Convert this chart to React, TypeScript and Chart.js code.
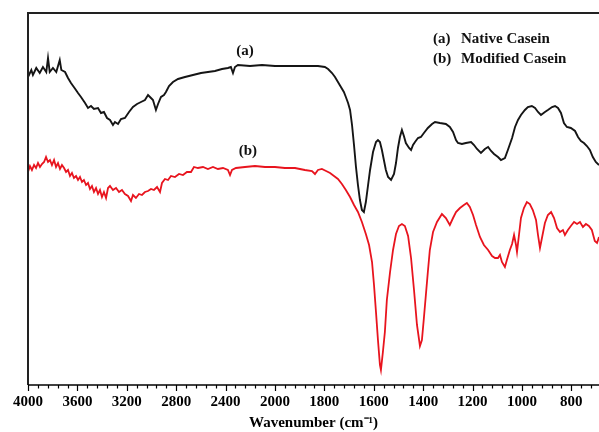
import { useEffect, useRef } from "react";
import { Chart, registerables } from "chart.js";

Chart.register(...registerables);

// Native casein (a) — wavenumber (cm-1) and transmittance (a.u.)
const waveA = [
  4000, 3973, 3960, 3933, 3905, 3879, 3852, 3838, 3824, 3798,
  3771, 3743, 3730, 3700, 3676, 3652, 3623, 3595, 3571, 3538,
  3514, 3490, 3466, 3433, 3409, 3385, 3360, 3336, 3312, 3296,
  3271, 3247, 3215, 3182, 3150, 3117, 3085, 3053, 3028, 3004,
  2988, 2964, 2947, 2923, 2899, 2883, 2858, 2826, 2785, 2729,
  2664, 2599, 2543, 2486, 2429, 2381, 2357, 2340, 2324, 2300,
  2202, 2105, 2000, 1939, 1879, 1826, 1798, 1785, 1769, 1757,
  1745, 1733, 1721, 1713, 1704, 1696, 1688, 1680, 1672, 1664,
  1656, 1648, 1640, 1632, 1623, 1615, 1603, 1591, 1583, 1575,
  1567, 1559, 1551, 1542, 1530, 1518, 1510, 1502, 1494, 1486,
  1478, 1470, 1457, 1449, 1441, 1433, 1421, 1409, 1397, 1381,
  1364, 1352, 1332, 1308, 1292, 1279, 1267, 1259, 1243, 1227,
  1206, 1194, 1182, 1166, 1150, 1137, 1125, 1113, 1097, 1085,
  1069, 1057, 1040, 1028, 1016, 1004, 988, 976, 960, 947,
  935, 923, 907, 895, 878, 866, 854, 842, 830, 818,
  802, 785, 773, 761, 749, 737, 725, 713, 701, 688,
];
const transA = [
  308, 315, 310, 317, 312, 318, 313, 327, 313, 317,
  313, 325, 315, 313, 307, 302, 297, 292, 288, 282,
  277, 279, 276, 277, 272, 273, 267, 265, 260, 263,
  261, 266, 267, 273, 278, 281, 283, 285, 290, 287,
  285, 275, 281, 288, 290, 293, 299, 303, 306, 308,
  310, 312, 313, 314, 316, 317, 318, 312, 318, 320,
  319, 320, 319, 319, 319, 319, 318, 316, 312, 308,
  303, 298, 293, 288, 282, 275, 260, 240, 218, 200,
  185, 175, 173, 183, 200, 215, 233, 243, 245, 243,
  235, 225, 215, 208, 205, 211, 222, 237, 248, 255,
  249, 242, 237, 235, 240, 243, 247, 248, 252, 257,
  261, 263, 262, 261, 258, 253, 245, 242, 241, 242,
  243, 240, 236, 232, 236, 238, 234, 231, 228, 225,
  227, 235, 247, 258, 265, 270, 275, 278, 279, 277,
  273, 270, 273, 275, 278, 279, 277, 272, 262, 258,
  257, 254, 248, 244, 242, 239, 235, 228, 223, 220,
];

// Modified casein (b)
const waveB = [
  4000, 3984, 3968, 3951, 3935, 3919, 3903, 3887, 3870, 3854,
  3838, 3822, 3806, 3789, 3773, 3757, 3741, 3725, 3708, 3692,
  3676, 3660, 3644, 3628, 3611, 3595, 3579, 3563, 3547, 3530,
  3514, 3498, 3482, 3466, 3449, 3433, 3417, 3401, 3385, 3368,
  3352, 3336, 3312, 3287, 3263, 3239, 3215, 3190, 3166, 3150,
  3126, 3101, 3077, 3053, 3028, 3004, 2980, 2955, 2931, 2915,
  2891, 2866, 2842, 2810, 2777, 2745, 2713, 2680, 2656, 2624,
  2583, 2543, 2502, 2462, 2421, 2381, 2364, 2348, 2316, 2243,
  2162, 2081, 2000, 1960, 1919, 1879, 1850, 1838, 1826, 1810,
  1793, 1777, 1761, 1745, 1729, 1713, 1696, 1680, 1664, 1648,
  1632, 1619, 1607, 1599, 1591, 1583, 1575, 1571, 1563, 1555,
  1547, 1534, 1522, 1510, 1498, 1486, 1474, 1461, 1449, 1437,
  1425, 1413, 1405, 1397, 1389, 1381, 1373, 1360, 1344, 1324,
  1308, 1292, 1279, 1267, 1251, 1235, 1223, 1211, 1198, 1186,
  1170, 1154, 1137, 1121, 1109, 1097, 1089, 1081, 1069, 1061,
  1049, 1040, 1032, 1024, 1020, 1012, 1004, 992, 980, 968,
  956, 943, 935, 927, 919, 907, 895, 882, 870, 858,
  846, 834, 826, 814, 802, 789, 777, 765, 753, 741,
  729, 717, 705, 696, 688,
];
const transB = [
  213, 219, 215, 220, 217, 222, 218, 221, 223, 228,
  223, 225, 220, 225, 218, 222, 216, 220, 217, 213,
  215, 209, 212, 207, 209, 205, 208, 203, 205, 200,
  202, 196, 199, 193, 197, 191, 195, 188, 193, 187,
  197, 199, 195, 197, 193, 195, 191, 189, 184, 190,
  187, 191, 190, 193, 194, 196, 195, 198, 193, 202,
  206, 205, 209, 208, 211, 210, 213, 213, 218, 217,
  218, 216, 218, 216, 217, 215, 210, 215, 217, 218,
  219, 218, 218, 217, 217, 215, 214, 211, 215, 216,
  214, 212, 209, 206, 201, 195, 188, 180, 173, 163,
  151, 140, 123, 100, 73, 45, 20, 15, 33, 53,
  85, 113, 135, 151, 159, 161, 159, 149, 127, 95,
  60, 39, 45, 67, 90, 113, 135, 153, 163, 171,
  167, 160, 167, 173, 177, 180, 182, 178, 170, 160,
  148, 140, 135, 129, 127, 127, 130, 123, 118, 125,
  135, 141, 150, 140, 133, 150, 167, 177, 183, 181,
  175, 165, 150, 137, 147, 162, 170, 173, 167, 157,
  153, 155, 150, 155, 159, 163, 161, 163, 158, 161,
  159, 155, 144, 142, 148,
];

const seriesTags = ["(a)", "(b)"];
const seriesNames = ["Native Casein", "Modified Casein"];
const tagWave = [2243, 2219];
const tagValue = [334, 234];
const majorTicks = [4000, 3600, 3200, 2800, 2400, 2000, 1800, 1600, 1400, 1200, 1000, 800];
const xTitle = "Wavenumber (cm\u207B\u00B9)";

// FTIR axis: half scale above 2000 cm-1
const toAxis = (w: number) => (w >= 2000 ? 2000 + (w - 2000) / 2 : w);

const FONT = '"Liberation Serif", "Times New Roman", serif';

const decor = {
  id: "decor",
  afterDraw(chart: any) {
    const { ctx, chartArea: ca, scales } = chart;
    const x = scales.x;
    const y = scales.y;
    ctx.save();
    // frame: left and top
    ctx.strokeStyle = "#222";
    ctx.lineWidth = 2;
    ctx.beginPath();
    ctx.moveTo(ca.left, ca.bottom);
    ctx.lineTo(ca.left, ca.top);
    ctx.lineTo(chart.width, ca.top);
    ctx.stroke();
    // bottom axis line
    ctx.strokeStyle = "#000";
    ctx.lineWidth = 1.6;
    ctx.beginPath();
    ctx.moveTo(ca.left, ca.bottom);
    ctx.lineTo(ca.right, ca.bottom);
    ctx.stroke();
    // ticks: minor every 40 axis units, major every 200
    ctx.lineWidth = 1.2;
    for (let a = 3000; a >= x.min; a -= 40) {
      const px = Math.round(x.getPixelForValue(a)) + 0.5;
      const len = a % 200 === 0 ? 6 : 3.5;
      ctx.beginPath();
      ctx.moveTo(px, ca.bottom);
      ctx.lineTo(px, ca.bottom + len);
      ctx.stroke();
    }
    // tick labels
    ctx.fillStyle = "#000";
    ctx.font = `bold 15px ${FONT}`;
    ctx.textAlign = "center";
    ctx.textBaseline = "middle";
    majorTicks.forEach((w) => {
      ctx.fillText(String(w), x.getPixelForValue(toAxis(w)), ca.bottom + 17);
    });
    // axis title
    ctx.fillText(xTitle, (ca.left + ca.right) / 2, ca.bottom + 38);
    // curve tags
    ctx.fillStyle = "#111";
    seriesTags.forEach((t, i) => {
      ctx.fillText(t, x.getPixelForValue(toAxis(tagWave[i])), y.getPixelForValue(tagValue[i]));
    });
    // legend text
    ctx.textAlign = "left";
    seriesTags.forEach((t, i) => {
      const ly = ca.top + 26 + i * 20;
      ctx.fillText(t, 433, ly);
      ctx.fillText(seriesNames[i], 461, ly);
    });
    ctx.restore();
  },
};

export default function App() {
  const ref = useRef<HTMLCanvasElement | null>(null);
  useEffect(() => {
    if (!ref.current) return;
    const chart = new Chart(ref.current, {
      type: "line",
      data: {
        datasets: [
          {
            label: seriesNames[0],
            data: waveA.map((w, i) => ({ x: toAxis(w), y: transA[i] })),
            borderColor: "#151515",
            borderWidth: 1.9,
            pointRadius: 0,
            tension: 0,
          },
          {
            label: seriesNames[1],
            data: waveB.map((w, i) => ({ x: toAxis(w), y: transB[i] })),
            borderColor: "#e8141e",
            borderWidth: 1.8,
            pointRadius: 0,
            tension: 0,
          },
        ],
      },
      options: {
        responsive: false,
        animation: false,
        layout: { padding: { left: 28, top: 13, right: 0, bottom: 47 } },
        plugins: { legend: { display: false }, tooltip: { enabled: false } },
        scales: {
          x: {
            type: "linear",
            display: false,
            reverse: true,
            min: 688,
            max: 3000,
          },
          y: { display: false, min: 0, max: 372 },
        },
      },
      plugins: [decor],
    } as any);
    return () => chart.destroy();
  }, []);
  return (
    <canvas
      ref={ref}
      width={599}
      height={432}
      style={{ position: "absolute", left: 0, top: 0, display: "block", background: "#fff" }}
    />
  );
}
